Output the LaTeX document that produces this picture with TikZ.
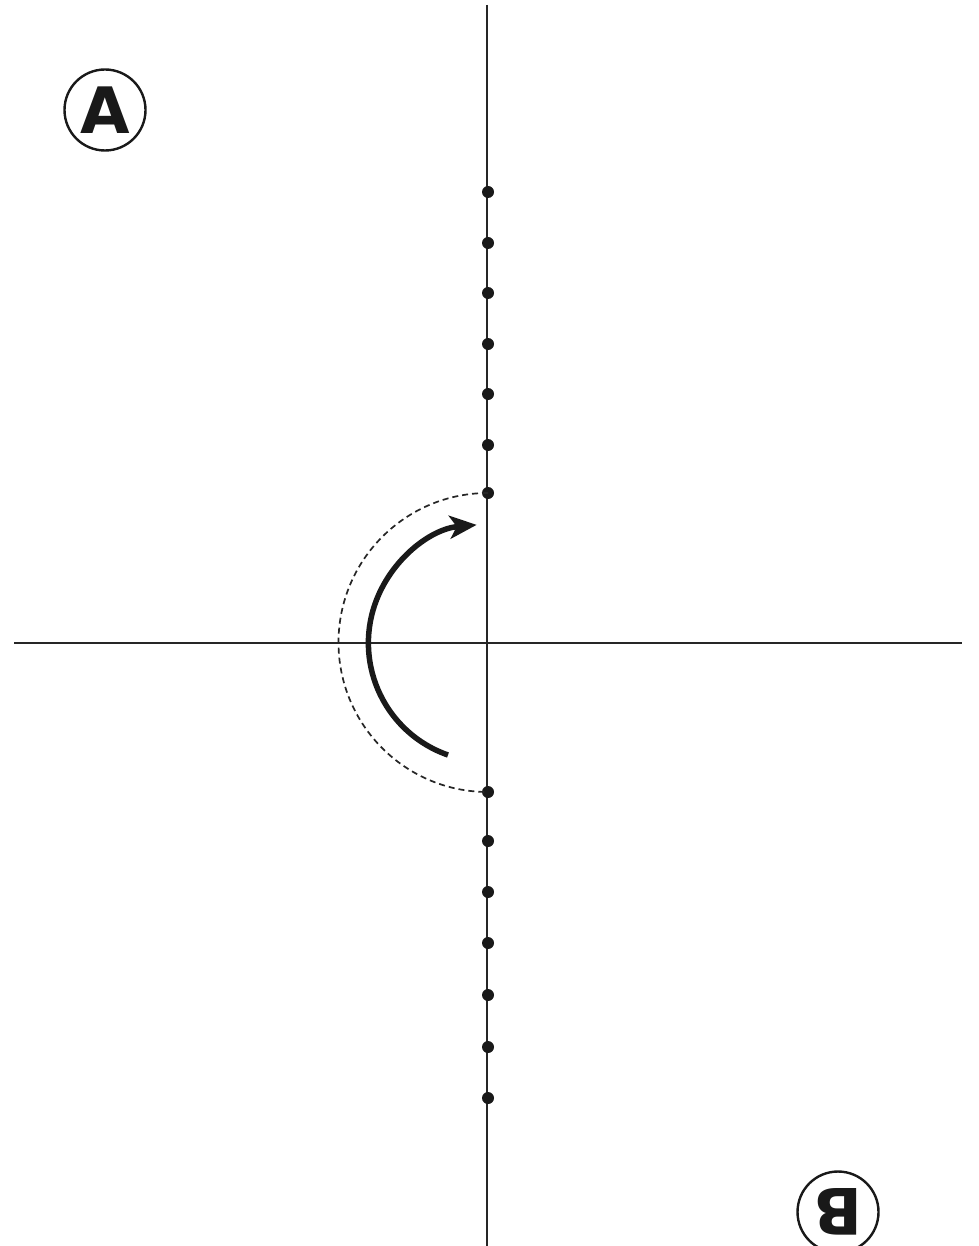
\documentclass[tikz,border=0pt]{standalone}
\usepackage{fontspec}
\newfontfamily\labfont{DejaVu Sans}
\usetikzlibrary{arrows.meta,calc}
\begin{document}
\begin{tikzpicture}[x=1pt,y=1pt,
  axis/.style={line width=1.8pt,black!85},
  dotnode/.style={circle,fill=black!90,inner sep=0pt,minimum size=12pt},
  letterring/.style={circle,draw=black!90,line width=2.4pt,minimum size=81pt,inner sep=0pt,
     font=\labfont\bfseries\fontsize{64}{64}\selectfont,text=black!90},
  dashedarc/.style={line width=1.7pt,black!85,dash pattern=on 6pt off 4pt},
  turnarrow/.style={line width=5.5pt,black!90,-{Stealth[length=27pt,width=23pt,inset=7pt]}}]
\useasboundingbox (0,0) rectangle (978,-1246);
\fill[white] (0,0) rectangle (978,-1246);
% axes
\coordinate (O) at (487,-643);
\coordinate (vtop) at (487,-5);
\coordinate (vbot) at (487,-1246);
\coordinate (hl) at (14,-643);
\coordinate (hr) at (962,-643);
\draw[axis] (vtop) -- (vbot);
\draw[axis] (hl) -- (hr);
% dots
\foreach \y [count=\i] in {192,243,293,344,394,445,493}
  \node[dotnode] (u\i) at (488,-\y) {};
\foreach \y [count=\i] in {792,841,892,943,995,1047,1098}
  \node[dotnode] (d\i) at (488,-\y) {};
% dashed semicircle
\draw[dashedarc] (u7.center) arc[start angle=90,end angle=270,radius=149.5];
% curved arrow
\coordinate (astart) at ($(O)+(250.8:118.6)$);
\draw[turnarrow] (astart) arc[start angle=250.8,end angle=95,radius=118.6];
% letters
\node[letterring] (A) at (105,-110) {A};
\node[letterring,rotate=180] (B) at (838,-1212) {B};
\end{tikzpicture}
\end{document}
